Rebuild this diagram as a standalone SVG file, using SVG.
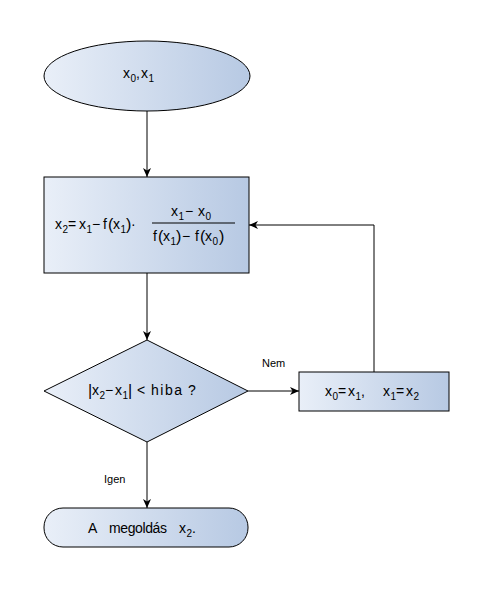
<svg xmlns="http://www.w3.org/2000/svg" width="479" height="599" viewBox="0 0 479 599">
<style>
.shape{stroke:#000;stroke-width:1;fill:url(#g)}
.t{font-family:"Liberation Sans",Arial,sans-serif;font-size:14px;fill:#000}
.s{font-size:10px}
.p{font-size:16px}
.lbl{font-family:"Liberation Sans",Arial,sans-serif;font-size:11px;fill:#000}
.c{stroke:#000;stroke-width:1;fill:none}
</style>
<defs>
<linearGradient id="g" x1="0" y1="0" x2="1" y2="0">
<stop offset="0" stop-color="#e9eff8"/>
<stop offset="1" stop-color="#b7c9e3"/>
</linearGradient>
<marker id="a" markerWidth="10" markerHeight="8" refX="9" refY="4" orient="auto" markerUnits="userSpaceOnUse">
<path d="M0,0 L9,4 L0,8 L2.5,4 Z" fill="#000"/>
</marker>
</defs>
<rect width="479" height="599" fill="#fff"/>
<g id="connectors">
<path class="c" d="M147,111 V177" marker-end="url(#a)"/>
<path class="c" d="M147,273 V340" marker-end="url(#a)"/>
<path class="c" d="M248,391 H299" marker-end="url(#a)"/>
<path class="c" d="M374,372 V225 H249" marker-end="url(#a)"/>
<path class="c" d="M147,442 V508" marker-end="url(#a)"/>
<text class="lbl" x="262" y="367">Nem</text>
<text class="lbl" x="104" y="483">Igen</text>
</g>
<g id="start">
<ellipse class="shape" cx="147" cy="76" rx="103" ry="35"/>
<text class="t" y="78"><tspan x="123">x</tspan><tspan class="s" x="130.5" dy="4">0</tspan><tspan x="136" dy="-4">,</tspan><tspan x="141">x</tspan><tspan class="s" x="148.5" dy="4">1</tspan></text>
</g>
<g id="compute">
<rect class="shape" x="44" y="177" width="205" height="96"/>
<text class="t" y="229"><tspan x="55">x</tspan><tspan class="s" x="62.5" dy="4">2</tspan><tspan x="68" dy="-4">=</tspan><tspan x="79">x</tspan><tspan class="s" x="86.5" dy="4">1</tspan><tspan x="92" dy="-4">−</tspan><tspan x="103">f</tspan><tspan class="p" x="108" dy="1">(</tspan><tspan x="113" dy="-1">x</tspan><tspan class="s" x="120.5" dy="4">1</tspan><tspan class="p" x="126" dy="-3">)</tspan><tspan x="131" dy="-1">·</tspan></text>
<text class="t" y="216"><tspan x="171">x</tspan><tspan class="s" x="178.5" dy="4">1</tspan><tspan x="185" dy="-4">−</tspan><tspan x="198">x</tspan><tspan class="s" x="205.5" dy="4">0</tspan></text>
<line x1="152" y1="223" x2="235" y2="223" stroke="#000" stroke-width="1"/>
<text class="t" y="241"><tspan x="153">f</tspan><tspan class="p" x="158" dy="1">(</tspan><tspan x="163" dy="-1">x</tspan><tspan class="s" x="170.5" dy="4">1</tspan><tspan class="p" x="176" dy="-3">)</tspan><tspan x="182" dy="-1">−</tspan><tspan x="195">f</tspan><tspan class="p" x="200" dy="1">(</tspan><tspan x="205" dy="-1">x</tspan><tspan class="s" x="212.5" dy="4">0</tspan><tspan class="p" x="219" dy="-3">)</tspan></text>
</g>
<g id="decision">
<polygon class="shape" points="147,340 248,391 147,442 44,391"/>
<text class="t" y="395"><tspan class="p" x="88" dy="1">|</tspan><tspan x="92" dy="-1">x</tspan><tspan class="s" x="99.5" dy="4">2</tspan><tspan x="105" dy="-4">−</tspan><tspan x="115">x</tspan><tspan class="s" x="122.5" dy="4">1</tspan><tspan class="p" x="128" dy="-3">|</tspan><tspan x="137" dy="-1">&lt;</tspan><tspan x="151" letter-spacing="1.5">hiba</tspan><tspan x="188">?</tspan></text>
</g>
<g id="update">
<rect class="shape" x="299" y="372" width="150" height="39"/>
<text class="t" y="396"><tspan x="325">x</tspan><tspan class="s" x="332.5" dy="4">0</tspan><tspan x="338" dy="-4">=</tspan><tspan x="348">x</tspan><tspan class="s" x="355.5" dy="4">1</tspan><tspan x="361" dy="-4">,</tspan><tspan x="383">x</tspan><tspan class="s" x="390.5" dy="4">1</tspan><tspan x="396" dy="-4">=</tspan><tspan x="406">x</tspan><tspan class="s" x="413.5" dy="4">2</tspan></text>
</g>
<g id="end">
<rect class="shape" x="44" y="508" width="204" height="39" rx="19" ry="19"/>
<text class="t" y="533"><tspan x="88">A</tspan><tspan x="109" textLength="58">megoldás</tspan><tspan x="179">x</tspan><tspan class="s" x="186.5" dy="4">2</tspan><tspan x="192" dy="-4">.</tspan></text>
</g>
</svg>
